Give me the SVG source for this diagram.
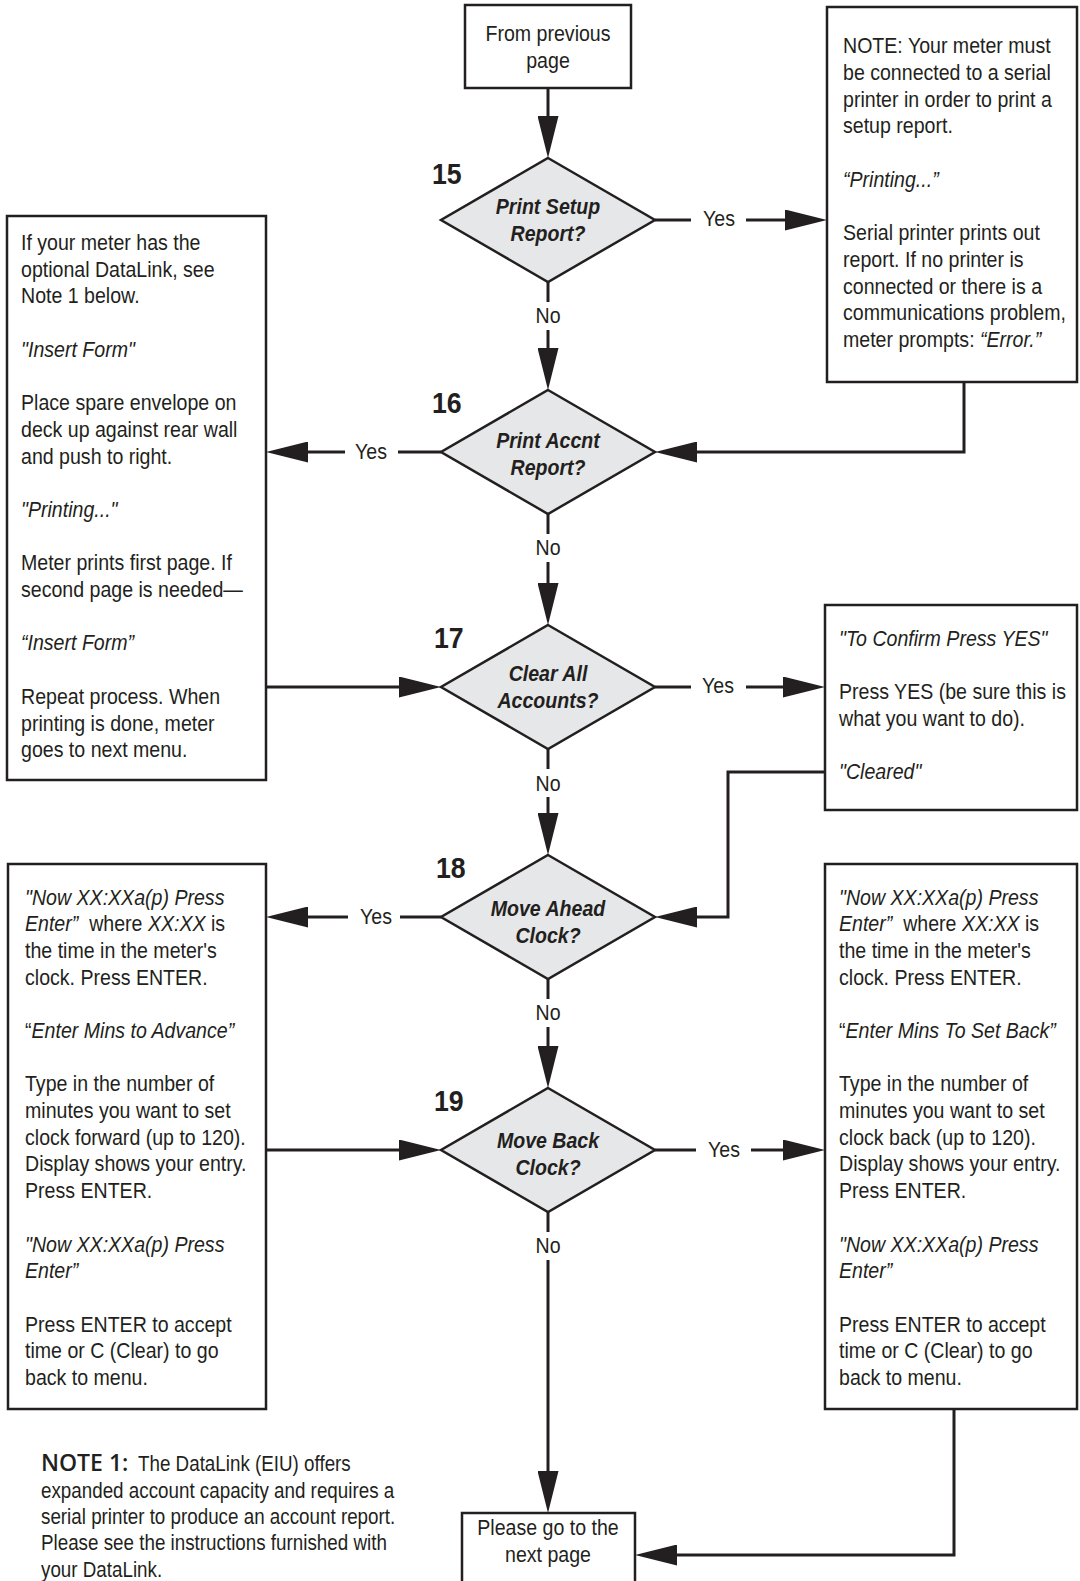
<svg xmlns="http://www.w3.org/2000/svg" width="1080" height="1581" viewBox="0 0 1080 1581">
  <style>
    .box { fill: #ffffff; stroke: #231f20; stroke-width: 2.5; }
    .dia { fill: #e6e7e8; stroke: #231f20; stroke-width: 2.5; stroke-linejoin: miter; }
    .wire { fill: none; stroke: #231f20; stroke-width: 3; stroke-linejoin: miter; }
    .arrow { marker-end: url(#head); }
    .t { font-family: "Liberation Sans", Arial, sans-serif; font-size: 22px; fill: #231f20; }
    .c { text-anchor: middle; }
    .i { font-style: italic; }
    .q { font-weight: bold; font-style: italic; }
    .num { font-family: "Liberation Sans", Arial, sans-serif; font-weight: bold; font-size: 30px; fill: #231f20; }
    .note1 { font-family: "Open Sans", "Liberation Sans", sans-serif; font-weight: 600; font-size: 23px; fill: #231f20; }
  </style>
  <defs>
    <marker id="head" markerUnits="userSpaceOnUse" markerWidth="42" markerHeight="21" viewBox="0 0 42 21" refX="12" refY="10.5" orient="auto">
      <path d="M0,0 L42,10.5 L0,21 z" fill="#231f20"/>
    </marker>
  </defs>

  <!-- connectors -->
  <g id="connectors">
    <path class="wire arrow" d="M548,88 V128"/>
    <!-- No branches down the main column -->
    <path class="wire" d="M548,282 V302"/>
    <path class="wire arrow" d="M548,330 V360"/>
    <path class="wire" d="M548,514 V534"/>
    <path class="wire arrow" d="M548,562 V595"/>
    <path class="wire" d="M548,749 V769"/>
    <path class="wire arrow" d="M548,797 V825"/>
    <path class="wire" d="M548,979 V999"/>
    <path class="wire arrow" d="M548,1027 V1058"/>
    <path class="wire" d="M548,1212 V1232"/>
    <path class="wire arrow" d="M548,1260 V1483"/>
    <!-- Yes branches -->
    <path class="wire" d="M655,220 H691"/>
    <path class="wire arrow" d="M746,220 H797"/>
    <path class="wire" d="M441,452 H398"/>
    <path class="wire arrow" d="M345,452 H296"/>
    <path class="wire" d="M655,687 H691"/>
    <path class="wire arrow" d="M746,687 H795"/>
    <path class="wire" d="M441,917 H400"/>
    <path class="wire arrow" d="M348,917 H296"/>
    <path class="wire" d="M655,1150 H696"/>
    <path class="wire arrow" d="M751,1150 H795"/>
    <!-- returns -->
    <path class="wire arrow" d="M964,382 V452 H685"/>
    <path class="wire arrow" d="M266,687 H411"/>
    <path class="wire arrow" d="M825,772 H728 V917 H685"/>
    <path class="wire arrow" d="M266,1150 H411"/>
    <path class="wire arrow" d="M954,1409 V1555 H665"/>
    <!-- branch labels -->
    <text class="t c" transform="translate(719,226) scale(0.89,1)">Yes</text>
    <text class="t c" transform="translate(371,459) scale(0.89,1)">Yes</text>
    <text class="t c" transform="translate(718,693) scale(0.89,1)">Yes</text>
    <text class="t c" transform="translate(376,924) scale(0.89,1)">Yes</text>
    <text class="t c" transform="translate(724,1157) scale(0.89,1)">Yes</text>
    <text class="t c" transform="translate(548,323) scale(0.89,1)">No</text>
    <text class="t c" transform="translate(548,555) scale(0.89,1)">No</text>
    <text class="t c" transform="translate(548,791) scale(0.89,1)">No</text>
    <text class="t c" transform="translate(548,1020) scale(0.89,1)">No</text>
    <text class="t c" transform="translate(548,1253) scale(0.89,1)">No</text>
  </g>

  <!-- start -->
  <g id="from-previous">
    <rect class="box" x="465" y="5" width="166" height="83"/>
    <text class="t c" transform="translate(548,41) scale(0.89,1)"><tspan x="0">From previous</tspan><tspan x="0" dy="26.7">page</tspan></text>
  </g>

  <!-- decisions -->
  <g id="step-15">
    <polygon class="dia" points="548,158 655,220 548,282 441,220"/>
    <text class="num" transform="translate(432,184) scale(0.89,1)">15</text>
    <text class="t q c" transform="translate(548,214) scale(0.89,1)"><tspan x="0">Print Setup</tspan><tspan x="0" dy="26.7">Report?</tspan></text>
  </g>
  <g id="step-16">
    <polygon class="dia" points="548,390 655,452 548,514 441,452"/>
    <text class="num" transform="translate(432,413) scale(0.89,1)">16</text>
    <text class="t q c" transform="translate(548,448) scale(0.89,1)"><tspan x="0">Print Accnt</tspan><tspan x="0" dy="26.7">Report?</tspan></text>
  </g>
  <g id="step-17">
    <polygon class="dia" points="548,625 655,687 548,749 441,687"/>
    <text class="num" transform="translate(434,648) scale(0.89,1)">17</text>
    <text class="t q c" transform="translate(548,681) scale(0.89,1)"><tspan x="0">Clear All</tspan><tspan x="0" dy="26.7">Accounts?</tspan></text>
  </g>
  <g id="step-18">
    <polygon class="dia" points="548,855 655,917 548,979 441,917"/>
    <text class="num" transform="translate(436,878) scale(0.89,1)">18</text>
    <text class="t q c" transform="translate(548,916) scale(0.89,1)"><tspan x="0">Move Ahead</tspan><tspan x="0" dy="26.7">Clock?</tspan></text>
  </g>
  <g id="step-19">
    <polygon class="dia" points="548,1088 655,1150 548,1212 441,1150"/>
    <text class="num" transform="translate(434,1111) scale(0.89,1)">19</text>
    <text class="t q c" transform="translate(548,1148) scale(0.89,1)"><tspan x="0">Move Back</tspan><tspan x="0" dy="26.7">Clock?</tspan></text>
  </g>

  <!-- action boxes -->
  <g id="setup-report">
    <rect class="box" x="827" y="7" width="250" height="375"/>
    <text class="t" transform="translate(843,53.4) scale(0.89,1)">
      <tspan x="0">NOTE: Your meter must</tspan>
      <tspan x="0" dy="26.7">be connected to a serial</tspan>
      <tspan x="0" dy="26.7">printer in order to print a</tspan>
      <tspan x="0" dy="26.7">setup report.</tspan>
      <tspan x="0" dy="53.4" class="i">“Printing...”</tspan>
      <tspan x="0" dy="53.4">Serial printer prints out</tspan>
      <tspan x="0" dy="26.7">report. If no printer is</tspan>
      <tspan x="0" dy="26.7">connected or there is a</tspan>
      <tspan x="0" dy="26.7">communications problem,</tspan>
      <tspan x="0" dy="26.7">meter prompts: <tspan class="i">“Error.”</tspan></tspan>
    </text>
  </g>

  <g id="account-report">
    <rect class="box" x="7" y="216" width="259" height="564"/>
    <text class="t" transform="translate(21,250) scale(0.89,1)">
      <tspan x="0">If your meter has the</tspan>
      <tspan x="0" dy="26.7">optional DataLink, see</tspan>
      <tspan x="0" dy="26.7">Note 1 below.</tspan>
      <tspan x="0" dy="53.4" class="i">"Insert Form"</tspan>
      <tspan x="0" dy="53.4">Place spare envelope on</tspan>
      <tspan x="0" dy="26.7">deck up against rear wall</tspan>
      <tspan x="0" dy="26.7">and push to right.</tspan>
      <tspan x="0" dy="53.4" class="i">"Printing..."</tspan>
      <tspan x="0" dy="53.4">Meter prints first page. If</tspan>
      <tspan x="0" dy="26.7">second page is needed—</tspan>
      <tspan x="0" dy="53.4" class="i">“Insert Form”</tspan>
      <tspan x="0" dy="53.4">Repeat process. When</tspan>
      <tspan x="0" dy="26.7">printing is done, meter</tspan>
      <tspan x="0" dy="26.7">goes to next menu.</tspan>
    </text>
  </g>

  <g id="clear-accounts">
    <rect class="box" x="825" y="605" width="252" height="205"/>
    <text class="t" transform="translate(839,646) scale(0.89,1)">
      <tspan x="0" class="i">"To Confirm Press YES"</tspan>
      <tspan x="0" dy="53.4">Press YES (be sure this is</tspan>
      <tspan x="0" dy="26.7">what you want to do).</tspan>
      <tspan x="0" dy="53.4" class="i">"Cleared"</tspan>
    </text>
  </g>

  <g id="move-ahead">
    <rect class="box" x="8" y="864" width="258" height="545"/>
    <text class="t" transform="translate(25,904.5) scale(0.89,1)">
      <tspan x="0" class="i">"Now XX:XXa(p) Press</tspan>
      <tspan x="0" dy="26.7"><tspan class="i">Enter”</tspan>&#160; where <tspan class="i">XX:XX</tspan> is</tspan>
      <tspan x="0" dy="26.7">the time in the meter's</tspan>
      <tspan x="0" dy="26.7">clock. Press ENTER.</tspan>
      <tspan x="0" dy="53.4">“<tspan class="i">Enter Mins to Advance”</tspan></tspan>
      <tspan x="0" dy="53.4">Type in the number of</tspan>
      <tspan x="0" dy="26.7">minutes you want to set</tspan>
      <tspan x="0" dy="26.7">clock forward (up to 120).</tspan>
      <tspan x="0" dy="26.7">Display shows your entry.</tspan>
      <tspan x="0" dy="26.7">Press ENTER.</tspan>
      <tspan x="0" dy="53.4" class="i">"Now XX:XXa(p) Press</tspan>
      <tspan x="0" dy="26.7" class="i">Enter”</tspan>
      <tspan x="0" dy="53.4">Press ENTER to accept</tspan>
      <tspan x="0" dy="26.7">time or C (Clear) to go</tspan>
      <tspan x="0" dy="26.7">back to menu.</tspan>
    </text>
  </g>

  <g id="move-back">
    <rect class="box" x="825" y="864" width="252" height="545"/>
    <text class="t" transform="translate(839,904.5) scale(0.89,1)">
      <tspan x="0" class="i">"Now XX:XXa(p) Press</tspan>
      <tspan x="0" dy="26.7"><tspan class="i">Enter”</tspan>&#160; where <tspan class="i">XX:XX</tspan> is</tspan>
      <tspan x="0" dy="26.7">the time in the meter's</tspan>
      <tspan x="0" dy="26.7">clock. Press ENTER.</tspan>
      <tspan x="0" dy="53.4">“<tspan class="i">Enter Mins To Set Back”</tspan></tspan>
      <tspan x="0" dy="53.4">Type in the number of</tspan>
      <tspan x="0" dy="26.7">minutes you want to set</tspan>
      <tspan x="0" dy="26.7">clock back (up to 120).</tspan>
      <tspan x="0" dy="26.7">Display shows your entry.</tspan>
      <tspan x="0" dy="26.7">Press ENTER.</tspan>
      <tspan x="0" dy="53.4" class="i">"Now XX:XXa(p) Press</tspan>
      <tspan x="0" dy="26.7" class="i">Enter”</tspan>
      <tspan x="0" dy="53.4">Press ENTER to accept</tspan>
      <tspan x="0" dy="26.7">time or C (Clear) to go</tspan>
      <tspan x="0" dy="26.7">back to menu.</tspan>
    </text>
  </g>

  <!-- end -->
  <g id="next-page">
    <rect class="box" x="462" y="1513" width="173" height="80"/>
    <text class="t c" transform="translate(548,1535) scale(0.89,1)"><tspan x="0">Please go to the</tspan><tspan x="0" dy="26.7">next page</tspan></text>
  </g>

  <!-- footnote -->
  <g id="note-1">
    <text class="note1" x="41" y="1471">NOTE 1:</text>
    <text class="t" transform="translate(138,1471) scale(0.855,1)">The DataLink (EIU) offers</text>
    <text class="t" transform="translate(41,1497.5) scale(0.855,1)">
      <tspan x="0">expanded account capacity and requires a</tspan>
      <tspan x="0" dy="26.4">serial printer to produce an account report.</tspan>
      <tspan x="0" dy="26.4">Please see the instructions furnished with</tspan>
      <tspan x="0" dy="26.4">your DataLink.</tspan>
    </text>
  </g>
</svg>
